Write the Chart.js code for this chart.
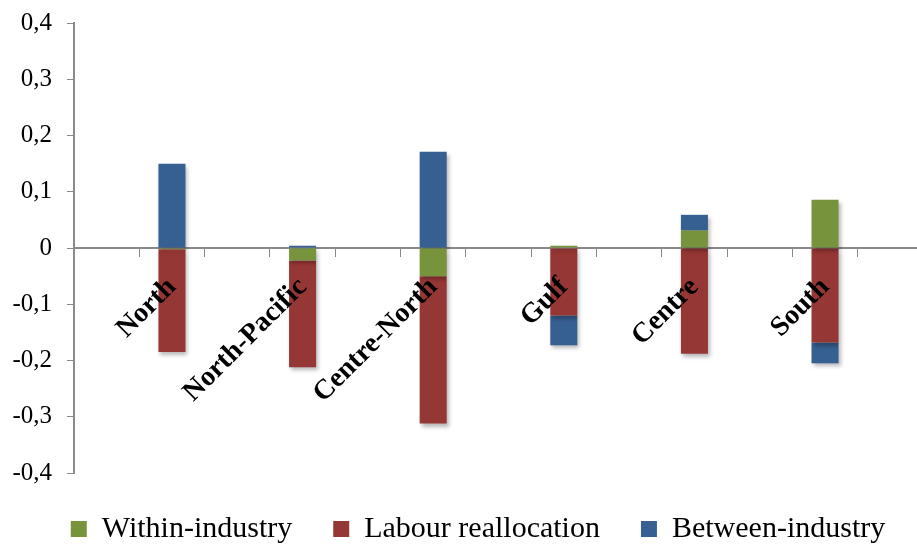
<!DOCTYPE html>
<html>
<head>
<meta charset="utf-8">
<script src="https://cdn.jsdelivr.net/npm/chart.js@4/dist/chart.umd.min.js"></script>
<style>
  html, body { margin: 0; padding: 0; background: #fff; overflow: hidden; }
  #wrap { position: relative; width: 956px; height: 544px; }
</style>
</head>
<body>
<div id="wrap"><canvas id="chart"></canvas></div>
<script>
// Regions and the three components of the productivity change
const regions = ['North', 'North-Pacific', 'Centre-North', 'Gulf', 'Centre', 'South'];
const withinIndustry     = [-0.002, -0.022, -0.050,  0.004, 0.031,  0.086];
const labourReallocation = [-0.183, -0.190, -0.262, -0.120, -0.188, -0.168];
const betweenIndustry    = [ 0.150,  0.004,  0.171, -0.053, 0.028, -0.037];

// Axis range
const yMin = -0.4, yMax = 0.4, yStep = 0.1;

// Each region sits between empty spacer slots on the category axis
function spaced(values, blank) {
  const out = [blank];
  values.forEach(v => { out.push(v); out.push(blank); });
  return out;
}
const labels = spaced(regions, '');

const axisGrey = '#8a8a8a';
const serif = "'Liberation Serif', 'Times New Roman', serif";

// Soft drop shadow under the bars
const barShadow = {
  id: 'barShadow',
  beforeDatasetsDraw(chart) {
    const ctx = chart.ctx;
    ctx.save();
    ctx.shadowColor = 'rgba(0,0,0,0.28)';
    ctx.shadowBlur = 4;
    ctx.shadowOffsetX = 2;
    ctx.shadowOffsetY = 3;
  },
  afterDatasetsDraw(chart) {
    chart.ctx.restore();
  }
};

new Chart(document.getElementById('chart'), {
  type: 'bar',
  data: {
    labels: labels,
    datasets: [
      { label: 'Within-industry', data: spaced(withinIndustry, null), backgroundColor: '#77933C' },
      { label: 'Labour reallocation', data: spaced(labourReallocation, null), backgroundColor: '#953735' },
      { label: 'Between-industry', data: spaced(betweenIndustry, null), backgroundColor: '#376092' }
    ]
  },
  options: {
    responsive: true,
    maintainAspectRatio: false,
    animation: false,
    layout: { padding: { top: 23, right: 0, bottom: -10, left: 0 } },
    datasets: { bar: { categoryPercentage: 0.414, barPercentage: 1, borderWidth: 0 } },
    plugins: {
      tooltip: { enabled: false },
      legend: {
        position: 'bottom',
        labels: {
          boxWidth: 16,
          boxHeight: 16,
          padding: 41,
          color: '#000',
          font: { family: serif, size: 30 }
        }
      }
    },
    scales: {
      x: {
        stacked: true,
        position: { y: 0 },
        border: { display: true, color: axisGrey, width: 2 },
        grid: { display: true, drawOnChartArea: false, drawTicks: true, tickLength: 8, color: axisGrey, offset: true },
        ticks: {
          z: 1,
          autoSkip: false,
          minRotation: 45,
          maxRotation: 45,
          padding: 15,
          color: '#000',
          font: { family: serif, size: 28, weight: 'bold' }
        }
      },
      y: {
        stacked: true,
        min: yMin,
        max: yMax,
        border: { display: true, color: axisGrey, width: 2 },
        grid: { display: true, drawOnChartArea: false, drawTicks: true, tickLength: 7, color: axisGrey },
        afterFit(scale) {
          scale.width = 74;
          scale.paddingTop = 0;
          scale.paddingBottom = 0;
        },
        ticks: {
          stepSize: yStep,
          padding: 15,
          color: '#000',
          font: { family: serif, size: 25 },
          callback(v) {
            const r = Math.round(v * 10) / 10;
            return r === 0 ? '0' : r.toFixed(1).replace('.', ',');
          }
        }
      },
      // empty margin on the right of the plot
      yRight: {
        axis: 'y',
        position: 'right',
        display: true,
        grid: { display: false },
        border: { display: false },
        ticks: { display: false },
        afterFit(scale) {
          scale.width = 33;
          scale.paddingTop = 0;
          scale.paddingBottom = 0;
        }
      }
    }
  },
  plugins: [barShadow]
});
</script>
</body>
</html>
